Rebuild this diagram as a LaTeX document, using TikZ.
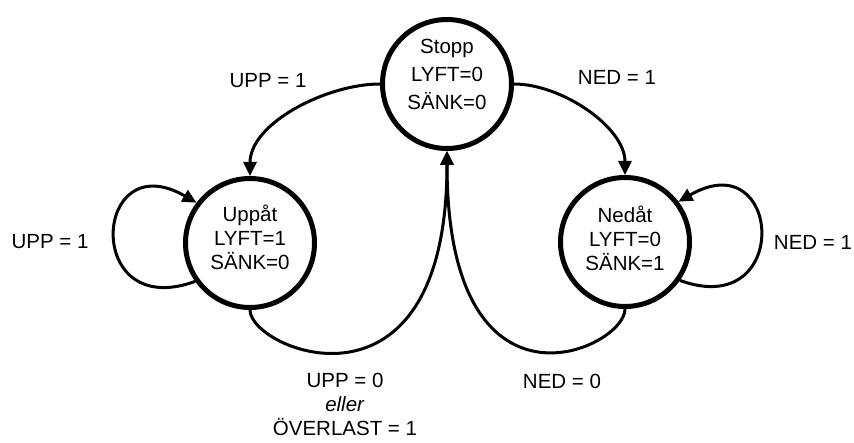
\documentclass[tikz,border=0pt]{standalone}
\usepackage{fontspec}
\setmainfont{Liberation Sans}
\usepackage{tikz}
\usetikzlibrary{arrows.meta,positioning}
\tikzset{
  state/.style={circle,draw,line width=5pt,minimum size=129pt,inner sep=0pt,
                align=center,font=\fontsize{20.5}{24}\selectfont},
  trans/.style={line width=3pt,-{Triangle[length=14pt,width=13pt]}},
  lbl/.style={inner sep=0pt,align=center,font=\fontsize{20.5}{24}\selectfont}
}

\begin{document}
\begin{tikzpicture}[x=1pt,y=1pt]
  \useasboundingbox (0,0) rectangle (854,442);
  \node[state,font=\fontsize{20.5}{28}\selectfont,text depth=20pt] (stopp) at (447,358)
       {Stopp\\LYFT=0\\SÄNK=0};
  \node[state,text depth=12pt] (upp) at (250,199) {Uppåt\\LYFT=1\\SÄNK=0};
  \node[state,text depth=8pt] (ned) at (625,200) {Nedåt\\LYFT=0\\SÄNK=1};

  \draw[trans] (stopp.west) to[out=180,in=90,looseness=0.85] (upp.north);
  \draw[trans] (stopp.east) to[out=0,in=90,looseness=0.85] (ned.north);
  \draw[trans] (upp.215) .. controls +(200:120) and +(150:120) .. (upp.143);
  \draw[trans] (ned.325) .. controls +(-20:120) and +(30:120) .. (ned.37);
  \draw[trans] (upp.south) .. controls +(0,-40) and +(0,-280) .. (stopp.south);
  \draw[trans] (ned.south) .. controls +(0,-40) and +(0,-280) .. (stopp.south);

  \node[lbl] (lupp) at (268,361) {UPP = 1};
  \node[lbl] (lned) at (617,365) {NED = 1};
  \node[lbl] (lupploop) at (50,200) {UPP = 1};
  \node[lbl] (lnedloop) at (813,200) {NED = 1};
  \node[lbl,anchor=north] (lupp0) at (345,69) {UPP = 0\\\textit{eller}\\ÖVERLAST = 1};
  \node[lbl] (lned0) at (562,61) {NED = 0};
\end{tikzpicture}
\end{document}
